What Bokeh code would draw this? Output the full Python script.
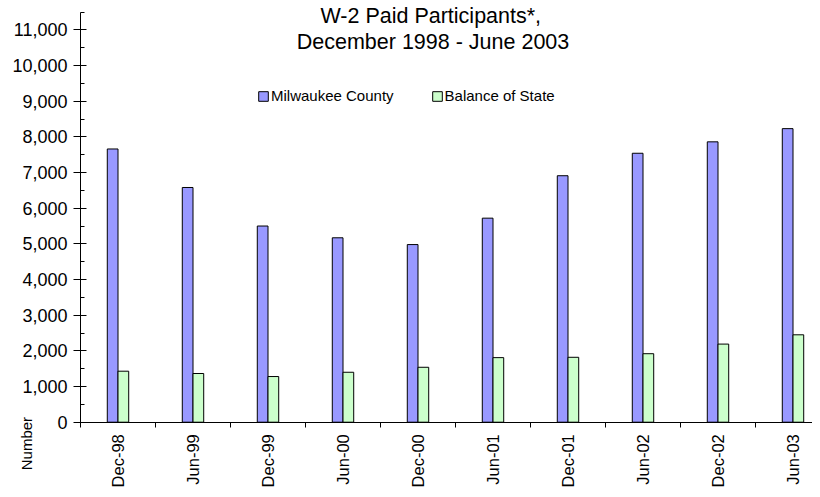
import math
from bokeh.plotting import figure
from bokeh.models import (ColumnDataSource, FixedTicker, SingleIntervalTicker, NumeralTickFormatter,
                          Range1d, Label, Legend, LegendItem)
from bokeh.embed import file_html
from bokeh.resources import INLINE

categories = ["Dec-98", "Jun-99", "Dec-99", "Jun-00", "Dec-00",
              "Jun-01", "Dec-01", "Jun-02", "Dec-02", "Jun-03"]
milwaukee = [7660, 6580, 5500, 5170, 4980, 5720, 6910, 7540, 7860, 8230]
balance = [1430, 1365, 1280, 1400, 1540, 1810, 1820, 1920, 2190, 2450]
title_lines = ["W-2 Paid Participants*,", "December 1998 - June 2003"]
series_names = ["Milwaukee County", "Balance of State"]
colors = ["#9999FF", "#CCFFCC"]
y_max = 11500

FONT = "Liberation Sans"
bar_w = 1.0 / 7.0
n = len(categories)
centers = [i + 0.5 for i in range(n)]

src = ColumnDataSource(dict(
    xm=[c - bar_w / 2 for c in centers],
    xb=[c + bar_w / 2 for c in centers],
    mil=milwaukee,
    bal=balance,
))

W, H = 812, 489
LEFT, ZERO_Y = 80.0, 421.7          # pixel position of the axes origin
PX_CAT = 75.0                       # pixels per category
PX_UNIT = 410.2 / y_max             # pixels per count

x_range = Range1d(-LEFT / PX_CAT, (W - LEFT) / PX_CAT)
y_range = Range1d(-(H - ZERO_Y) / PX_UNIT, ZERO_Y / PX_UNIT)

p = figure(width=W, height=H, frame_width=W, frame_height=H,
           x_range=x_range, y_range=y_range,
           output_backend="svg", toolbar_location=None,
           min_border=0, min_border_left=0, min_border_right=0,
           min_border_top=0, min_border_bottom=0)
p.outline_line_color = None
p.xgrid.visible = False
p.ygrid.visible = False
p.background_fill_color = "white"

r1 = p.vbar(x="xm", top="mil", width=bar_w, source=src, fill_color=colors[0],
            line_color="black", line_width=1)
r2 = p.vbar(x="xb", top="bal", width=bar_w, source=src, fill_color=colors[1],
            line_color="black", line_width=1)

# x axis
xa = p.xaxis[0]
xa.fixed_location = 0
xa.bounds = (0, x_range.end)
xa.ticker = FixedTicker(ticks=centers, minor_ticks=list(range(n + 1)))
xa.major_label_overrides = {c: lab for c, lab in zip(centers, categories)}
xa.major_label_orientation = math.pi / 2
xa.major_tick_out = 0
xa.major_tick_in = 0
xa.minor_tick_out = 5
xa.minor_tick_in = 0
xa.major_label_standoff = 7
xa.major_label_text_font = FONT
xa.major_label_text_font_size = "16.5px"
xa.major_label_text_color = "black"
xa.axis_line_color = "black"
xa.minor_tick_line_color = "black"

# y axis
ya = p.yaxis[0]
ya.fixed_location = 0
ya.bounds = (0, y_max)
ya.ticker = SingleIntervalTicker(interval=1000, num_minor_ticks=2)
ya.formatter = NumeralTickFormatter(format="0,0")
ya.major_tick_out = 7
ya.major_tick_in = 6
ya.minor_tick_out = 0
ya.minor_tick_in = 4
ya.major_label_standoff = 6
ya.major_label_text_font = FONT
ya.major_label_text_font_size = "18px"
ya.major_label_text_color = "black"
ya.axis_line_color = "black"
ya.major_tick_line_color = "black"
ya.minor_tick_line_color = "black"

# title (two lines, over the plot area)
p.add_layout(Label(x=4.67, y=11385, text=title_lines[0], text_align="center",
                   text_baseline="alphabetic", text_font=FONT, text_font_size="21.5px",
                   text_color="black"))
p.add_layout(Label(x=4.70, y=10656, text=title_lines[1], text_align="center",
                   text_baseline="alphabetic", text_font=FONT, text_font_size="21.5px",
                   text_color="black"))

# "Number" axis label, bottom-left
p.add_layout(Label(x=-0.72, y=-600, text="Number", angle=math.pi / 2, text_align="center",
                   text_baseline="middle", text_font=FONT, text_font_size="15px",
                   text_color="black"))

legend = Legend(items=[LegendItem(label=series_names[0], renderers=[r1]),
                       LegendItem(label=series_names[1], renderers=[r2])],
                orientation="horizontal", location=(257, H - 104),
                glyph_width=12, glyph_height=12, label_standoff=2, spacing=37,
                padding=0, margin=0, border_line_alpha=0, background_fill_alpha=0,
                label_text_font=FONT, label_text_font_size="15px", label_text_color="black",
                label_height=12)
p.add_layout(legend, "center")

open("out.html", "w").write(file_html(p, INLINE))
